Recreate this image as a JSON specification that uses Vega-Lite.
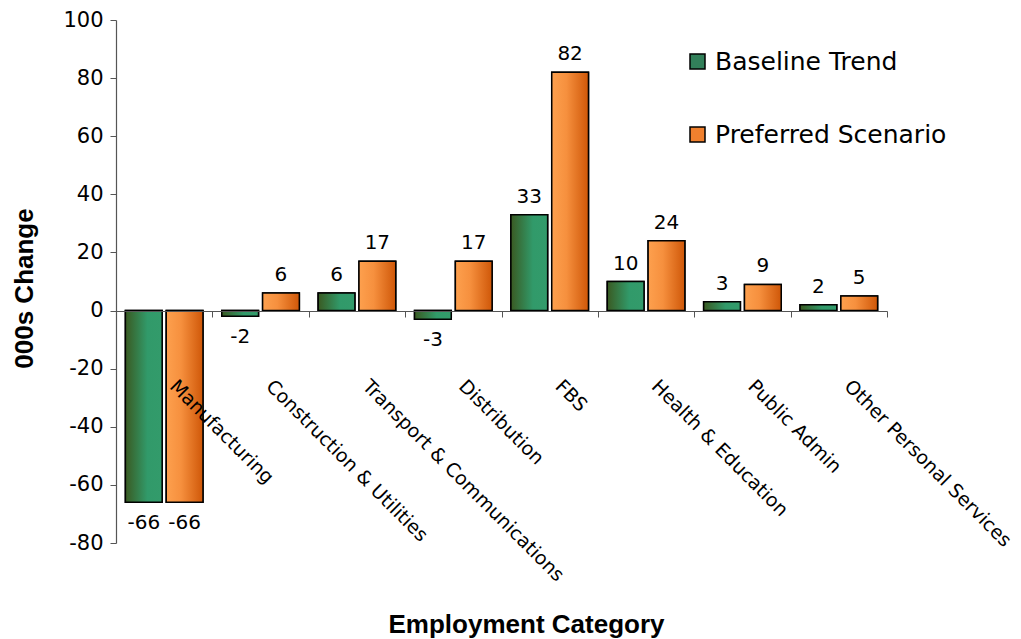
{
  "$schema": "https://vega.github.io/schema/vega-lite/v6.json",
  "width": 771,
  "height": 523,
  "autosize": {"type": "none"},
  "padding": {"left": 116, "top": 20, "right": 134, "bottom": 96},
  "background": "white",
  "config": {
    "view": {"stroke": null},
    "font": "DejaVu Sans",
    "locale": {"number": {"decimal": ".", "thousands": ",", "grouping": [3], "currency": ["$", ""], "minus": "-"}}
  },
  "data": {
    "values": [
      {"category": "Manufacturing", "series": "Baseline Trend", "value": -66},
      {"category": "Manufacturing", "series": "Preferred Scenario", "value": -66},
      {"category": "Construction & Utilities", "series": "Baseline Trend", "value": -2},
      {"category": "Construction & Utilities", "series": "Preferred Scenario", "value": 6},
      {"category": "Transport & Communications", "series": "Baseline Trend", "value": 6},
      {"category": "Transport & Communications", "series": "Preferred Scenario", "value": 17},
      {"category": "Distribution", "series": "Baseline Trend", "value": -3},
      {"category": "Distribution", "series": "Preferred Scenario", "value": 17},
      {"category": "FBS", "series": "Baseline Trend", "value": 33},
      {"category": "FBS", "series": "Preferred Scenario", "value": 82},
      {"category": "Health & Education", "series": "Baseline Trend", "value": 10},
      {"category": "Health & Education", "series": "Preferred Scenario", "value": 24},
      {"category": "Public Admin", "series": "Baseline Trend", "value": 3},
      {"category": "Public Admin", "series": "Preferred Scenario", "value": 9},
      {"category": "Other Personal Services", "series": "Baseline Trend", "value": 2},
      {"category": "Other Personal Services", "series": "Preferred Scenario", "value": 5}
    ]
  },
  "encoding": {
    "x": {
      "field": "category",
      "type": "nominal",
      "sort": null,
      "scale": {"paddingInner": 0, "paddingOuter": 0},
      "axis": {
        "title": "Employment Category",
        "titleFont": "Liberation Sans",
        "titleFontSize": 26,
        "titleFontWeight": "bold",
        "titleColor": "black",
        "titleX": 410,
        "titleY": 321,
        "titleAlign": "center",
        "titleBaseline": "alphabetic",
        "offset": -232,
        "domainColor": "#555555",
        "domainWidth": 1.2,
        "tickColor": "#555555",
        "tickSize": 6,
        "tickBand": "extent",
        "labelAngle": 45,
        "labelAlign": "left",
        "labelBaseline": "alphabetic",
        "labelPadding": 70,
        "labelOffset": 4,
        "labelFont": "DejaVu Sans",
        "labelFontSize": 19,
        "labelColor": "black",
        "labelLimit": 500,
        "labelOverlap": false,
        "zindex": 1
      }
    },
    "xOffset": {
      "field": "series",
      "type": "nominal",
      "sort": ["Baseline Trend", "Preferred Scenario"],
      "scale": {"paddingInner": 0.1, "paddingOuter": 0.23}
    },
    "y": {
      "field": "value",
      "type": "quantitative",
      "scale": {"domain": [-80, 100], "nice": false},
      "axis": {
        "title": "000s Change",
        "titleFont": "Liberation Sans",
        "titleFontSize": 26,
        "titleFontWeight": "bold",
        "titleColor": "black",
        "titleAngle": -90,
        "titleX": -84,
        "titleY": 268,
        "titleAlign": "center",
        "titleBaseline": "alphabetic",
        "values": [-80, -60, -40, -20, 0, 20, 40, 60, 80, 100],
        "grid": false,
        "domainColor": "#555555",
        "domainWidth": 1.2,
        "tickColor": "#555555",
        "tickSize": 6,
        "labelFont": "DejaVu Sans",
        "labelFontSize": 21,
        "labelColor": "black",
        "labelPadding": 7
      }
    }
  },
  "layer": [
    {
      "mark": {"type": "bar", "stroke": "black", "strokeWidth": 1.5},
      "encoding": {
        "color": {
          "field": "series",
          "type": "nominal",
          "scale": {"domain": ["Baseline Trend", "Preferred Scenario"], "range": ["#32805a", "#f0802e"]},
          "legend": {
            "title": null,
            "orient": "none",
            "legendX": 569,
            "legendY": 29,
            "padding": 0,
            "symbolType": "square",
            "symbolSize": 225,
            "symbolStrokeColor": "black",
            "symbolStrokeWidth": 1.5,
            "symbolOpacity": 1,
            "labelFont": "DejaVu Sans",
            "labelFontSize": 25,
            "labelColor": "black",
            "labelOffset": 5,
            "labelLimit": 400,
            "rowPadding": 47,
            "encode": {
              "symbols": {
                "update": {
                  "fill": [
                    {"test": "datum.value === 'Baseline Trend'", "value": {"gradient": "linear", "x1": 0, "y1": 0, "x2": 1, "y2": 0, "stops": [{"offset": 0, "color": "#3a5a22"}, {"offset": 0.6, "color": "#319a6a"}, {"offset": 1, "color": "#339b6b"}]}},
                    {"value": {"gradient": "linear", "x1": 0, "y1": 0, "x2": 1, "y2": 0, "stops": [{"offset": 0, "color": "#fda04e"}, {"offset": 0.4, "color": "#f6903e"}, {"offset": 1, "color": "#cf5708"}]}}
                  ],
                  "stroke": {"value": "black"},
                  "strokeWidth": {"value": 1.5}
                }
              }
            }
          }
        }
      }
    },
    {
      "mark": {"type": "bar", "stroke": "black", "strokeWidth": 1.5},
      "encoding": {
        "fill": {
          "condition": {
            "test": "datum.series === 'Baseline Trend'",
            "value": {"gradient": "linear", "x1": 0, "y1": 0, "x2": 1, "y2": 0, "stops": [{"offset": 0, "color": "#3a5a22"}, {"offset": 0.6, "color": "#319a6a"}, {"offset": 1, "color": "#339b6b"}]}
          },
          "value": {"gradient": "linear", "x1": 0, "y1": 0, "x2": 1, "y2": 0, "stops": [{"offset": 0, "color": "#fda04e"}, {"offset": 0.4, "color": "#f6903e"}, {"offset": 1, "color": "#cf5708"}]}
        }
      }
    },
    {
      "transform": [{"filter": "datum.value >= 0"}],
      "mark": {"type": "text", "dy": -12, "baseline": "alphabetic", "align": "center", "fontSize": 20, "font": "DejaVu Sans", "color": "black"},
      "encoding": {"text": {"field": "value", "type": "quantitative"}}
    },
    {
      "transform": [{"filter": "datum.value < 0"}],
      "mark": {"type": "text", "dy": 27, "baseline": "alphabetic", "align": "center", "fontSize": 20, "font": "DejaVu Sans", "color": "black"},
      "encoding": {"text": {"field": "value", "type": "quantitative"}}
    }
  ]
}
